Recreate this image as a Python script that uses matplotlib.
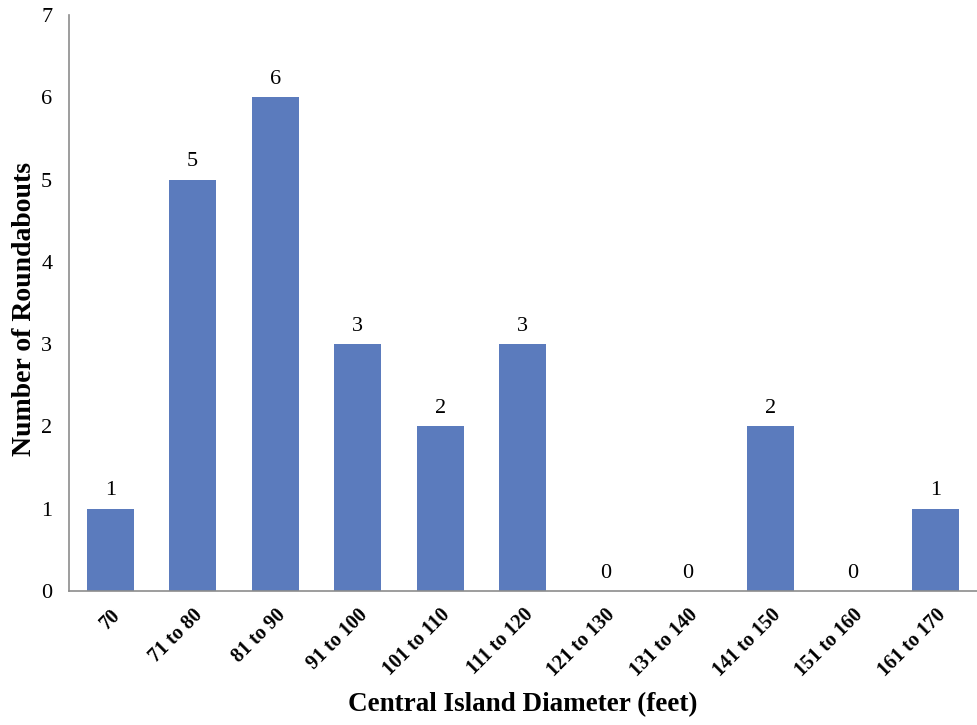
import matplotlib.pyplot as plt

categories = ["70", "71 to 80", "81 to 90", "91 to 100", "101 to 110", "111 to 120",
              "121 to 130", "131 to 140", "141 to 150", "151 to 160", "161 to 170"]
counts = [1, 5, 6, 3, 2, 3, 0, 0, 2, 0, 1]

plt.rcParams['font.family'] = ['Liberation Serif', 'DejaVu Serif']

fig = plt.figure(figsize=(9.77, 7.25), dpi=100)
ax = fig.add_axes([0.0706, 0.185, 0.929, 0.794])

bars = ax.bar(range(len(categories)), counts, width=0.57, color="#5B7BBD")
ax.bar_label(bars, padding=6, fontsize=16)

ax.set_xlim(-0.5, len(categories) - 0.5)
ax.set_ylim(0, 7)
ax.set_yticks(range(8))
ax.set_xticks(range(len(categories)))
ax.set_xticklabels(categories, rotation=45, ha="right", rotation_mode="anchor",
                   fontsize=14.5, fontweight="bold")
ax.tick_params(axis="y", labelsize=16, length=0, pad=12)
ax.tick_params(axis="x", length=0, pad=10)

for s in ["top", "right"]:
    ax.spines[s].set_visible(False)
for s in ["left", "bottom"]:
    ax.spines[s].set_color("#8c8c8c")
    ax.spines[s].set_linewidth(1.2)

ax.set_xlabel("Central Island Diameter (feet)", fontsize=19.5, fontweight="bold")
ax.set_ylabel("Number of Roundabouts", fontsize=20, fontweight="bold")
ax.xaxis.set_label_coords(0.5, -0.175)
ax.yaxis.set_label_coords(-0.035, 0.49)

fig.savefig("out.png", dpi=100)
